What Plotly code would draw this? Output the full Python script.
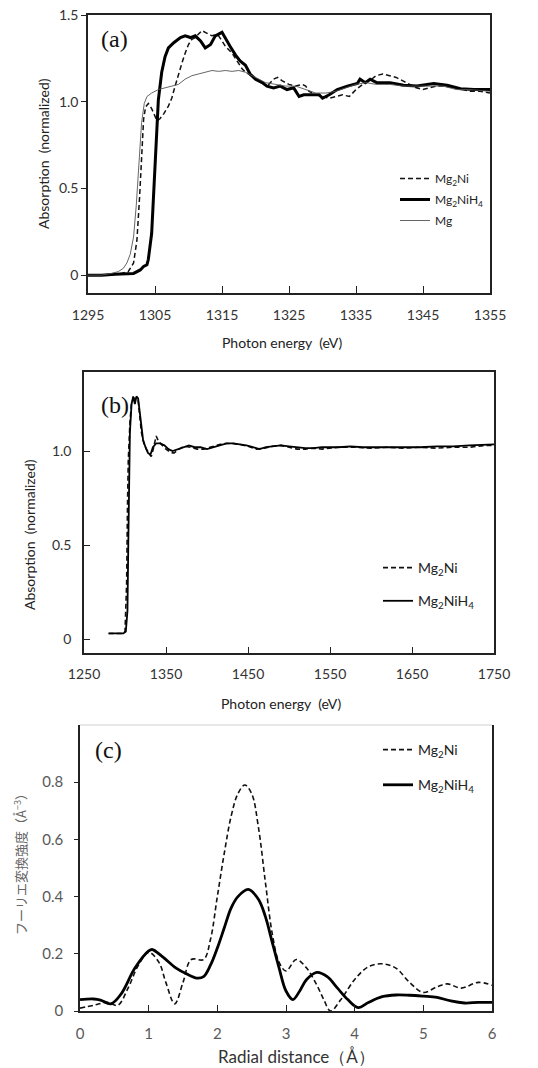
import plotly.graph_objects as go

# ---------------- Panel (a) data ----------------
a_e_h4 = [1295, 1297, 1299, 1300.5, 1301.8, 1302.8, 1303.3, 1303.8, 1304.0, 1304.5, 1304.9, 1305.2, 1305.5,
          1306.0, 1306.5, 1307.0, 1307.8, 1308.8, 1309.5, 1310.3, 1311.0, 1311.8, 1312.5, 1313.3, 1314.0,
          1315.0, 1315.5, 1316.2, 1317.0, 1317.7, 1318.5, 1319.2, 1320.0, 1321.0, 1321.7, 1322.7, 1323.7,
          1324.7, 1325.7, 1326.5, 1327.2, 1328.5, 1329.5, 1330.0, 1331.0, 1332.2, 1333.7, 1335.2, 1335.6,
          1336.4, 1337.1, 1338.1, 1340.1, 1342.1, 1344.1, 1346.6, 1348.6, 1350.6, 1352.6, 1355.0]
a_v_h4 = [0.0, 0.0, 0.005, 0.008, 0.01, 0.03, 0.05, 0.06, 0.09, 0.24, 0.53, 0.82, 1.01,
          1.17, 1.26, 1.31, 1.34, 1.37, 1.38, 1.37, 1.38, 1.35, 1.31, 1.33, 1.38,
          1.40, 1.37, 1.32, 1.27, 1.235, 1.21, 1.16, 1.13, 1.11, 1.09, 1.08, 1.09,
          1.07, 1.08, 1.03, 1.04, 1.04, 1.04, 1.02, 1.04, 1.07, 1.09, 1.105, 1.13,
          1.11, 1.13, 1.11, 1.11, 1.095, 1.09, 1.105, 1.095, 1.075, 1.07, 1.07]

a_e_ni = [1295, 1298, 1300, 1301, 1301.8, 1302.3, 1302.7, 1303.0, 1303.3, 1303.6, 1304.0, 1304.5, 1305.0,
          1305.3, 1305.7, 1306.3, 1307.0, 1307.5, 1308.0, 1308.5, 1309.0, 1309.5, 1310.0, 1310.5, 1311.0,
          1311.5, 1312.0, 1312.5, 1313.0, 1313.5, 1314.0, 1314.5, 1315.0, 1315.5, 1316.0, 1316.5, 1317.0,
          1317.5, 1318.0, 1318.5, 1319.0, 1320.0, 1321.0, 1322.0, 1322.7, 1323.3, 1324.0, 1325.0, 1326.0,
          1327.0, 1327.5, 1328.0, 1329.0, 1330.0, 1331.0, 1332.0, 1333.0, 1334.0, 1335.0, 1336.0, 1337.0,
          1338.0, 1339.0, 1340.0, 1341.0, 1342.0, 1343.0, 1344.0, 1345.0, 1346.0, 1347.0, 1348.0, 1350.0,
          1352.0, 1353.5, 1355.0]
a_v_ni = [0.0, 0.0, 0.01, 0.02, 0.07, 0.2, 0.45, 0.7, 0.9, 0.97, 0.99, 0.96, 0.91,
          0.89, 0.9, 0.93, 0.975, 1.02, 1.09, 1.16, 1.22, 1.28, 1.33, 1.36, 1.37,
          1.39, 1.41, 1.40, 1.39, 1.38, 1.385, 1.38, 1.35, 1.32, 1.30, 1.28, 1.25,
          1.22, 1.19, 1.17, 1.16, 1.13, 1.11, 1.10, 1.13, 1.14, 1.12, 1.10, 1.09,
          1.10, 1.09, 1.06, 1.04, 1.03, 1.02, 1.03, 1.04, 1.03, 1.07, 1.10, 1.12,
          1.15, 1.16, 1.15, 1.14, 1.12, 1.10, 1.08, 1.07, 1.08, 1.09, 1.09, 1.08,
          1.06, 1.06, 1.05]

a_e_mg = [1295, 1297, 1298.5, 1299.5, 1300.3, 1300.8, 1301.3, 1301.8, 1302.2, 1302.6, 1303.0, 1303.4, 1303.8,
          1304.5, 1305.5, 1306.5, 1307.5, 1308.5, 1309.5, 1310.5, 1311.5, 1312.5, 1313.5, 1314.5, 1315.5,
          1316.5, 1317.5, 1318.5, 1319.5, 1320.5, 1321.5, 1323.0, 1324.5, 1326.0, 1327.5, 1329.0, 1330.5,
          1332.0, 1333.5, 1335.0, 1336.5, 1338.0, 1340.0, 1342.0, 1344.0, 1346.0, 1348.0, 1350.0, 1352.0, 1355.0]
a_v_mg = [0.0, 0.0, 0.01, 0.02, 0.04, 0.07, 0.12, 0.22, 0.4, 0.65, 0.88, 0.99, 1.03,
          1.05, 1.07, 1.08, 1.09, 1.10, 1.13, 1.15, 1.16, 1.17, 1.18, 1.175, 1.18,
          1.175, 1.18, 1.17, 1.15, 1.13, 1.11, 1.10, 1.09, 1.09, 1.07, 1.05, 1.05,
          1.06, 1.08, 1.10, 1.11, 1.10, 1.10, 1.09, 1.09, 1.09, 1.09, 1.07, 1.07, 1.06]

a_xticks = [1295, 1305, 1315, 1325, 1335, 1345, 1355]
a_yticks = [0, 0.5, 1.0, 1.5]
a_yticklabels = ["0", "0.5", "1.0", "1.5"]

# ---------------- Panel (b) data ----------------
b_e_h4 = [1280, 1290, 1298, 1301, 1303, 1304, 1305, 1306, 1308, 1310, 1312, 1314, 1316, 1318, 1320, 1322,
          1325, 1328, 1331, 1334, 1338, 1343, 1348, 1353, 1358, 1364, 1370, 1378, 1385, 1392, 1400, 1408,
          1416, 1424, 1432, 1440, 1448, 1456, 1464, 1472, 1480, 1490, 1500, 1510, 1520, 1530, 1540, 1550,
          1560, 1575, 1590, 1605, 1620, 1640, 1660, 1680, 1700, 1720, 1740, 1750]
b_v_h4 = [0.03, 0.03, 0.03, 0.04, 0.15, 0.5, 0.9, 1.1, 1.25, 1.29, 1.25, 1.29, 1.28, 1.2, 1.12, 1.06,
          1.02, 0.99, 0.98, 1.02, 1.04, 1.04, 1.03, 1.01, 1.0, 1.01, 1.02, 1.03, 1.02, 1.02, 1.01, 1.02,
          1.03, 1.04, 1.04, 1.035, 1.03, 1.02, 1.01, 1.02, 1.025, 1.03, 1.025, 1.02, 1.015, 1.015, 1.02, 1.02,
          1.02, 1.025, 1.02, 1.02, 1.02, 1.02, 1.02, 1.025, 1.025, 1.03, 1.035, 1.035]

b_e_ni = [1280, 1298, 1300, 1302, 1303, 1304, 1306, 1308, 1311, 1314, 1316, 1318, 1320, 1323, 1326, 1329,
          1332, 1335, 1338, 1341, 1345, 1350, 1356, 1360, 1366, 1372, 1380, 1388, 1396, 1404, 1412, 1420,
          1430, 1440, 1450, 1460, 1470, 1480, 1490, 1500, 1510, 1520, 1530, 1540, 1550, 1560, 1580, 1600,
          1620, 1640, 1660, 1680, 1700, 1720, 1740, 1750]
b_v_ni = [0.03, 0.03, 0.04, 0.3, 0.7, 0.95, 1.15, 1.26, 1.28, 1.28, 1.27, 1.2, 1.1, 1.04, 1.01, 0.99,
          0.97, 1.02, 1.08, 1.05, 1.03, 1.01, 0.99, 0.99, 1.01, 1.025, 1.02, 1.01, 1.01, 1.02, 1.03, 1.04,
          1.04, 1.035, 1.025, 1.01, 1.015, 1.025, 1.03, 1.02, 1.01, 1.01, 1.015, 1.01, 1.015, 1.02, 1.02, 1.015,
          1.02, 1.015, 1.02, 1.015, 1.02, 1.02, 1.03, 1.03]

b_xticks = [1250, 1350, 1450, 1550, 1650, 1750]
b_yticks = [0, 0.5, 1.0]
b_yticklabels = ["0", "0.5", "1.0"]

# ---------------- Panel (c) data ----------------
c_r_h4 = [0.0, 0.2, 0.3, 0.45, 0.6, 0.8, 1.0, 1.05, 1.2, 1.4, 1.55, 1.7, 1.8, 1.9, 2.0, 2.1, 2.2, 2.3,
          2.45, 2.6, 2.7, 2.8, 2.9, 3.0, 3.1, 3.2, 3.3, 3.45, 3.6, 3.75, 3.9, 4.05, 4.2, 4.4, 4.6, 4.8,
          5.0, 5.2, 5.4, 5.6, 5.8, 6.0]
c_v_h4 = [0.04, 0.042, 0.038, 0.025, 0.06, 0.15, 0.21, 0.215, 0.19, 0.15, 0.13, 0.115, 0.12, 0.16, 0.22,
          0.29, 0.36, 0.40, 0.425, 0.39, 0.33, 0.24, 0.15, 0.07, 0.04, 0.07, 0.11, 0.135, 0.12, 0.08, 0.04,
          0.012, 0.03, 0.05, 0.056, 0.055, 0.052, 0.048, 0.035, 0.028, 0.030, 0.030]

c_r_ni = [0.0, 0.2, 0.4, 0.55, 0.7, 0.85, 1.0, 1.15, 1.25, 1.38, 1.5, 1.62, 1.8, 1.9, 2.0, 2.1, 2.2, 2.3,
          2.4, 2.5, 2.6, 2.7, 2.8, 2.9, 3.0, 3.15, 3.3, 3.45, 3.55, 3.65, 3.8, 4.0, 4.2, 4.4, 4.6, 4.8,
          5.0, 5.2, 5.35, 5.55, 5.8, 6.0]
c_v_ni = [0.01, 0.02, 0.03, 0.02, 0.08, 0.16, 0.205, 0.17, 0.10, 0.025, 0.10, 0.18, 0.18, 0.25, 0.40,
          0.55, 0.68, 0.76, 0.79, 0.76, 0.64, 0.45, 0.27, 0.17, 0.14, 0.18, 0.15, 0.09, 0.04, 0.0, 0.04,
          0.11, 0.155, 0.165, 0.15, 0.10, 0.065, 0.085, 0.095, 0.08, 0.10, 0.09]

c_xticks = [0, 1, 2, 3, 4, 5, 6]
c_yticks = [0, 0.2, 0.4, 0.6, 0.8]
c_yticklabels = ["0", "0.2", "0.4", "0.6", "0.8"]

NAME_NI = "Mg<sub>2</sub>Ni"
NAME_H4 = "Mg<sub>2</sub>NiH<sub>4</sub>"
NAME_MG = "Mg"

# the page body margin is removed (post_script), so the figure fills the window exactly
W, H = 538, 1068
FONT = "Lato, 'Open Sans', sans-serif"
CJK = "'Noto Sans CJK JP', sans-serif"
SERIF = "'Liberation Serif', 'DejaVu Serif', serif"


def px(x):
    return x / W


def py(y):
    return 1 - y / H


fig = go.Figure()

# (a)
fig.add_trace(go.Scatter(x=a_e_ni, y=a_v_ni, name=NAME_NI, mode="lines", legendgroup="a1",
                         line=dict(color="#111", width=1.5, dash="5px,3px"), xaxis="x", yaxis="y", legend="legend"))
fig.add_trace(go.Scatter(x=a_e_h4, y=a_v_h4, name=NAME_H4, mode="lines", legendgroup="a2",
                         line=dict(color="#000", width=3), xaxis="x", yaxis="y", legend="legend"))
fig.add_trace(go.Scatter(x=a_e_mg, y=a_v_mg, name=NAME_MG, mode="lines", legendgroup="a3",
                         line=dict(color="#555", width=0.9), xaxis="x", yaxis="y", legend="legend"))
# (b)
fig.add_trace(go.Scatter(x=b_e_ni, y=b_v_ni, name=NAME_NI, mode="lines", legendgroup="b1",
                         line=dict(color="#111", width=1.6, dash="5px,3px"), xaxis="x2", yaxis="y2", legend="legend2"))
fig.add_trace(go.Scatter(x=b_e_h4, y=b_v_h4, name=NAME_H4, mode="lines", legendgroup="b2",
                         line=dict(color="#000", width=1.8), xaxis="x2", yaxis="y2", legend="legend2"))
# (c)
fig.add_trace(go.Scatter(x=c_r_ni, y=c_v_ni, name=NAME_NI, mode="lines", line_shape="spline", legendgroup="c1",
                         line=dict(color="#111", width=1.6, dash="5px,3px"), xaxis="x3", yaxis="y3", legend="legend3"))
fig.add_trace(go.Scatter(x=c_r_h4, y=c_v_h4, name=NAME_H4, mode="lines", line_shape="spline", legendgroup="c2",
                         line=dict(color="#000", width=2.8), xaxis="x3", yaxis="y3", legend="legend3"))

axis_common = dict(showgrid=False, zeroline=False, showline=True, linecolor="#222", linewidth=1.5,
                   ticks="inside", tickcolor="#222", tickwidth=1.2, automargin=False,
                   ticklabeloverflow="allow")

fig.update_layout(
    width=W, height=H, margin=dict(l=0, r=0, t=0, b=0, autoexpand=False),
    paper_bgcolor="white", plot_bgcolor="white",
    font=dict(family=FONT, color="#222"),
    xaxis=dict(axis_common, domain=[px(88), px(490)], range=[1295, 1355], tickvals=a_xticks,
               ticklen=7, mirror=True, anchor="y", tickfont=dict(size=14, color="#333"),
               ticklabelstandoff=8),
    yaxis=dict(axis_common, domain=[py(293), py(15)], range=[-0.103, 1.5], tickvals=a_yticks,
               ticktext=a_yticklabels, ticks="outside", ticklen=5, mirror=True, anchor="x",
               tickfont=dict(size=14, color="#333")),
    xaxis2=dict(axis_common, domain=[px(84), px(494)], range=[1250, 1750], tickvals=b_xticks,
                ticklen=6, mirror=True, anchor="y2", tickfont=dict(size=14, color="#333"),
                ticklabelstandoff=7),
    yaxis2=dict(axis_common, domain=[py(653), py(372)], range=[-0.074, 1.42], tickvals=b_yticks,
                ticktext=b_yticklabels, ticklen=6, mirror=True, anchor="x2",
                tickfont=dict(size=14, color="#333"), ticklabelstandoff=8),
    xaxis3=dict(axis_common, domain=[px(80), px(492)], range=[0, 6], tickvals=c_xticks,
                ticklen=6, mirror=False, anchor="y3", tickfont=dict(size=15, color="#595959"),
                ticklabelstandoff=8),
    yaxis3=dict(axis_common, domain=[py(1011), py(725)], range=[0, 1.0], tickvals=c_yticks,
                ticktext=c_yticklabels, ticks="outside", ticklen=4, mirror=True, anchor="x3",
                tickfont=dict(size=15, color="#595959"), ticklabelstandoff=8),
    legend=dict(x=px(395), y=py(164), xanchor="left", yanchor="top", bgcolor="rgba(0,0,0,0)",
                font=dict(size=12, color="#222", family=FONT), tracegroupgap=2, itemwidth=30),
    legend2=dict(x=px(378), y=py(552), xanchor="left", yanchor="top", bgcolor="rgba(0,0,0,0)",
                 font=dict(size=14, color="#222", family=FONT), itemwidth=30, tracegroupgap=12),
    legend3=dict(x=px(378), y=py(734), xanchor="left", yanchor="top", bgcolor="rgba(0,0,0,0)",
                 font=dict(size=14, color="#222", family=FONT), itemwidth=30, tracegroupgap=14),
    shapes=[dict(type="line", xref="x3 domain", yref="y3 domain", x0=0, x1=1, y0=1, y1=1,
                 line=dict(color="#cfcfcf", width=1.2))],
)

ann = []
# panel labels
for txt, x, y in [("(a)", 99, 39), ("(b)", 99, 405), ("(c)", 93, 750)]:
    ann.append(dict(text=txt, x=px(x), y=py(y), xref="paper", yref="paper", xanchor="left", yanchor="middle",
                    showarrow=False, font=dict(family=SERIF, size=24, color="#111")))
# axis titles
titles = [
    ("Photon energy  (eV)", 282, 343, 0, 14, "#222", FONT),
    ("Absorption  (normalized)", 43, 154, -90, 14, "#222", FONT),
    ("Photon energy  (eV)", 281, 703, 0, 14, "#222", FONT),
    ("Absorption  (normalized)", 29, 535, -90, 14, "#222", FONT),
    ("Radial distance（Å）", 296, 1056, 0, 17, "#333", FONT),
    ("フーリエ変換強度（Å<sup>−3</sup>）", 20, 861, -90, 13, "#666", CJK),
]
for txt, x, y, ang, size, col, fam in titles:
    ann.append(dict(text=txt, x=px(x), y=py(y), xref="paper", yref="paper", xanchor="center",
                    yanchor="middle", showarrow=False, textangle=ang,
                    font=dict(size=size, color=col, family=fam)))
fig.update_layout(annotations=ann)

fig.write_html("out.html", config={"displayModeBar": False},
               post_script="document.body.style.margin='0';document.body.style.overflow='hidden';")
